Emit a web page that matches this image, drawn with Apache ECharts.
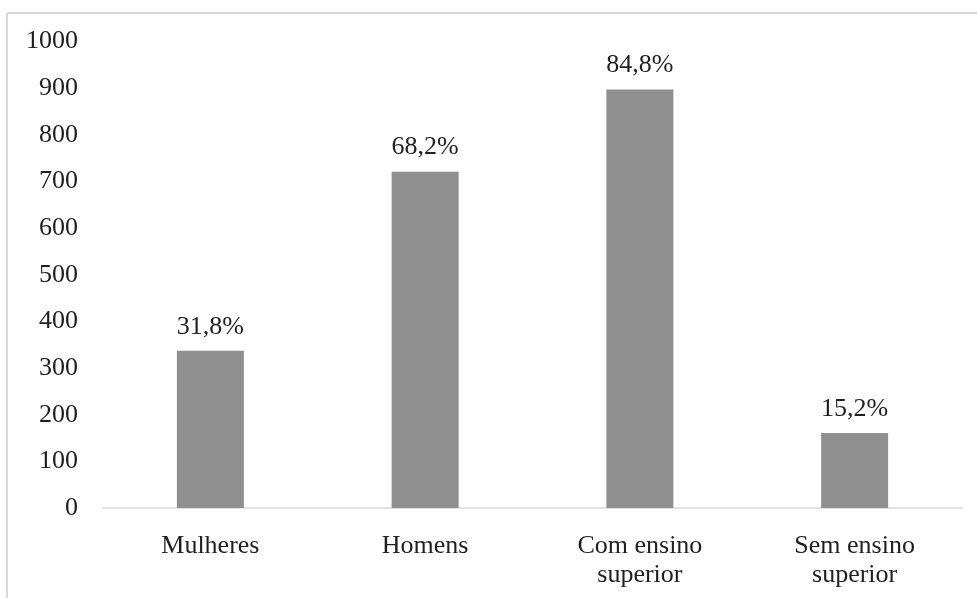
<!DOCTYPE html>
<html>
<head>
<meta charset="utf-8">
<script src="https://cdn.jsdelivr.net/npm/echarts@6/dist/echarts.min.js"></script>
<style>
html,body{margin:0;padding:0;background:#fff;}
#chart{width:977px;height:598px;}
</style>
</head>
<body>
<div id="chart"></div>
<script>
const categories = ['Mulheres', 'Homens', 'Com ensino\nsuperior', 'Sem ensino\nsuperior'];
const values = [337, 721, 897, 161];
const percentLabels = ['31,8%', '68,2%', '84,8%', '15,2%'];
const yTicks = { min: 0, max: 1000, interval: 100 };

const font = 'Liberation Serif';
const textColor = '#1f1f1f';

const chart = echarts.init(document.getElementById('chart'), null, { renderer: 'canvas' });
chart.setOption({
  backgroundColor: '#ffffff',
  animation: false,
  graphic: [
    { type: 'line', shape: { x1: 7, y1: 13, x2: 977, y2: 13 }, style: { stroke: '#d9d9d9', lineWidth: 2 } },
    { type: 'line', shape: { x1: 7, y1: 13, x2: 7, y2: 598 }, style: { stroke: '#d9d9d9', lineWidth: 2 } }
  ],
  grid: { left: 103, right: 15, top: 41.5, bottom: 90, containLabel: false },
  xAxis: {
    type: 'category',
    data: categories,
    axisLine: { show: true, lineStyle: { color: '#d9d9d9', width: 1.5 } },
    axisTick: { show: false },
    axisLabel: { color: textColor, fontFamily: font, fontSize: 26, margin: 24, lineHeight: 29, interval: 0 }
  },
  yAxis: {
    type: 'value',
    min: yTicks.min,
    max: yTicks.max,
    interval: yTicks.interval,
    axisLine: { show: false },
    axisTick: { show: false },
    splitLine: { show: false },
    axisLabel: { color: textColor, fontFamily: font, fontSize: 26, margin: 25, formatter: v => String(v) }
  },
  series: [{
    type: 'bar',
    data: values,
    barWidth: 67,
    itemStyle: { color: '#8f8f8f' },
    label: {
      show: true,
      position: 'top',
      distance: 11,
      color: textColor,
      fontFamily: font,
      fontSize: 26,
      formatter: p => percentLabels[p.dataIndex]
    }
  }]
});
</script>
</body>
</html>
